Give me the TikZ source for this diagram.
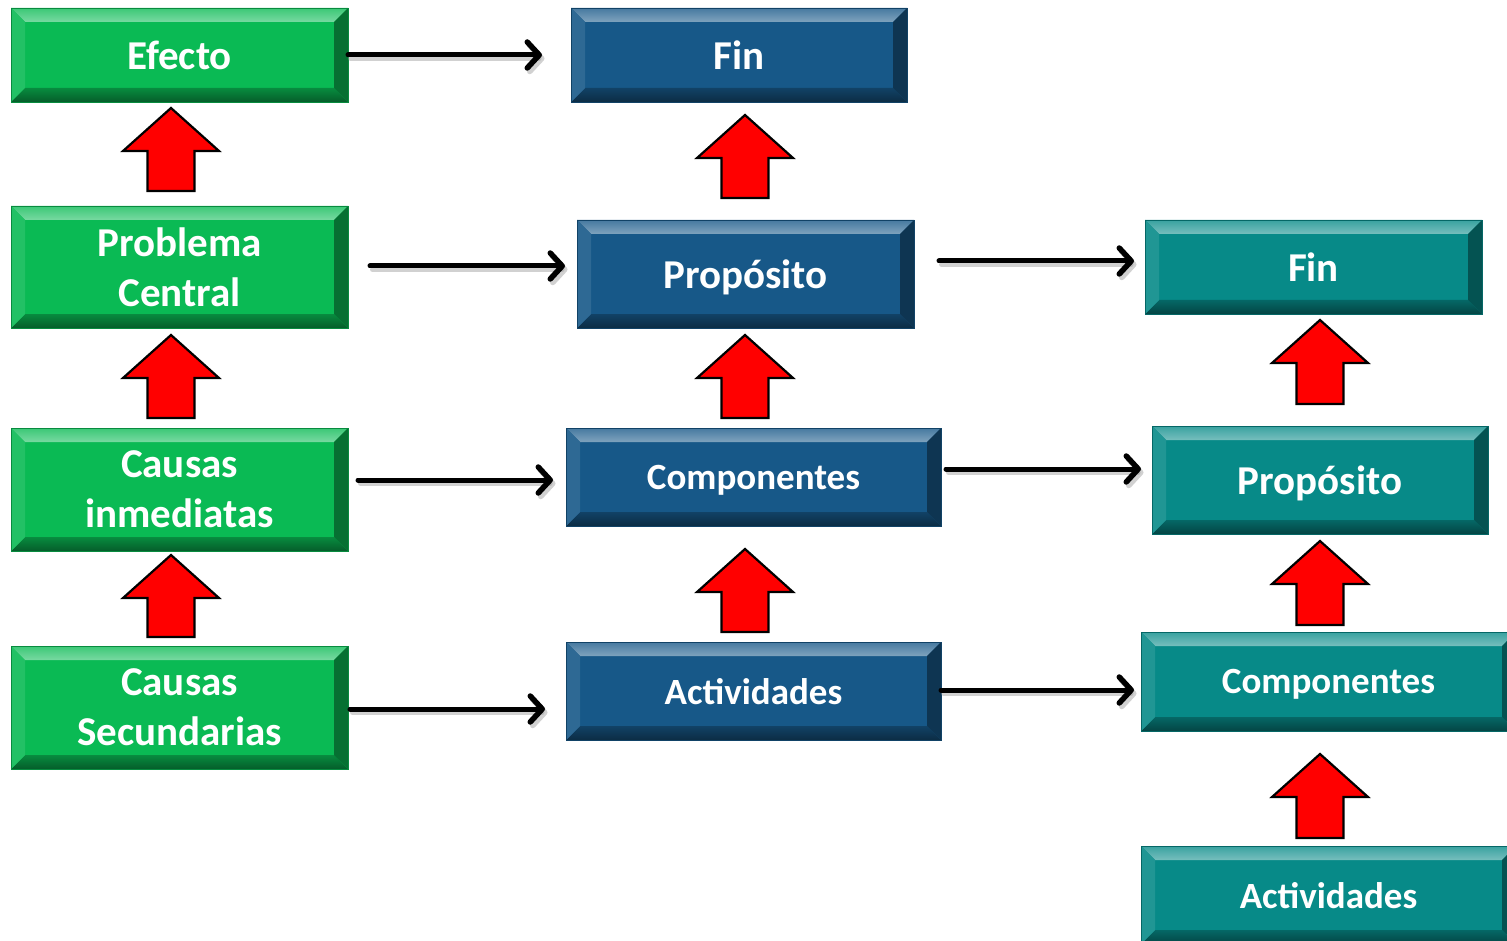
\documentclass[tikz,border=0pt]{standalone}
\usepackage{fontspec}
\setmainfont{Carlito}
\usetikzlibrary{arrows.meta,calc}
\definecolor{gmain}{RGB}{10,186,84}
\definecolor{bmain}{RGB}{23,88,136}
\definecolor{tmain}{RGB}{7,138,136}
\tikzset{
  bev/.style={fill=#1, draw=#1!75!black, line width=0.8pt, inner sep=0pt, outer sep=0pt, text=white, align=center,
    font=\bfseries\fontsize{41}{50}\selectfont,
    path picture={
      \coordinate (nw) at (path picture bounding box.north west);
      \coordinate (ne) at (path picture bounding box.north east);
      \coordinate (sw) at (path picture bounding box.south west);
      \coordinate (se) at (path picture bounding box.south east);
      \shade[top color=#1!80!white, bottom color=#1!55!white] (nw) -- (ne) -- ([shift={(-14pt,-14pt)}]ne) -- ([shift={(14pt,-14pt)}]nw) -- cycle;
      \shade[top color=#1!75!black, bottom color=#1!50!black] (sw) -- (se) -- ([shift={(-14pt,14pt)}]se) -- ([shift={(14pt,14pt)}]sw) -- cycle;
      \fill[#1!90!white] (nw) -- ([shift={(14pt,-14pt)}]nw) -- ([shift={(14pt,14pt)}]sw) -- (sw) -- cycle;
      \fill[#1!60!black] (ne) -- ([shift={(-14pt,-14pt)}]ne) -- ([shift={(-14pt,14pt)}]se) -- (se) -- cycle;
    }},
  gbox/.style={bev=gmain},
  bbox/.style={bev=bmain},
  tbox/.style={bev=tmain},
  one/.style={text depth=0pt},
  small/.style={font=\bfseries\fontsize{37}{44}\selectfont},
  connbase/.style={line width=5pt, line cap=round, -{Straight Barb[length=12pt,width=26pt,line width=5.5pt,line cap=round,line join=round]}},
  conn/.style={connbase, draw=black},
  connshadow/.style={connbase, draw=black!40, opacity=0.45, transform canvas={shift={(2.5pt,-3.5pt)}}},
  redarr/.style={fill=red, draw=black, line width=2.2pt, line join=miter}
}
\newcommand\blockup[3]{%
  \draw[redarr] (#1,#2) -- (#1+48,#2+43) -- (#1+23.5,#2+43) -- (#1+23.5,#3) -- (#1-23.5,#3) -- (#1-23.5,#2+43) -- (#1-48,#2+43) -- cycle;}
\newcommand\connect[2]{%
  \draw[connshadow] #1 -- #2;
  \draw[conn] #1 -- #2;}
\begin{document}
\begin{tikzpicture}[x=1pt,y=-1pt]
\useasboundingbox[fill=white] (0,0) rectangle (1507,941);
% left column
\node[gbox, one, minimum width=337pt, minimum height=94pt] (efecto) at (179.5,55) {Efecto};
\node[gbox, minimum width=337pt, minimum height=122pt] (prob) at (179.5,267) {Problema\\Central};
\node[gbox, minimum width=337pt, minimum height=123pt] (inm) at (179.5,489.5) {Causas\\inmediatas};
\node[gbox, minimum width=337pt, minimum height=123pt] (sec) at (179.5,707.5) {Causas\\Secundarias};
% middle column
\node[bbox, one, minimum width=336pt, minimum height=94pt] (fin1) at (739,55) {Fin};
\node[bbox, one, minimum width=337pt, minimum height=108pt] (prop1) at (745.5,274) {Propósito};
\node[bbox, small, one, minimum width=375pt, minimum height=98pt] (comp1) at (753.5,477) {Componentes};
\node[bbox, small, one, minimum width=375pt, minimum height=98pt] (act1) at (753.5,691) {Actividades};
% right column
\node[tbox, one, minimum width=337pt, minimum height=94pt] (fin2) at (1313.5,267) {Fin};
\node[tbox, one, minimum width=336pt, minimum height=108pt] (prop2) at (1320,480) {Propósito};
\node[tbox, small, one, minimum width=375pt, minimum height=99pt] (comp2) at (1328.5,681.5) {Componentes};
\node[tbox, small, one, minimum width=375pt, minimum height=98pt] (act2) at (1328.5,895) {Actividades};
% red block arrows
\blockup{171}{108}{191}
\blockup{171}{335}{418}
\blockup{171}{555}{637}
\blockup{745}{115}{198}
\blockup{745}{335}{418}
\blockup{745}{549}{632}
\blockup{1320}{320}{404}
\blockup{1320}{541}{625}
\blockup{1320}{754}{838}
% connectors
\connect{(efecto.east)}{([xshift=-29pt]efecto.east -| fin1.west)}
\connect{([xshift=22pt,yshift=1pt]prob.east)}{([xshift=-12pt,yshift=1pt]prob.east -| prop1.west)}
\connect{([xshift=10pt,yshift=9.5pt]inm.east)}{([xshift=-13pt,yshift=9.5pt]inm.east -| comp1.west)}
\connect{([xshift=2pt,yshift=-1.5pt]sec.east)}{([xshift=-21pt,yshift=-1.5pt]sec.east -| act1.west)}
\connect{([xshift=25pt,yshift=13pt]prop1.east)}{([xshift=-11pt,yshift=13pt]prop1.east -| fin2.west)}
\connect{([xshift=5pt,yshift=8pt]comp1.east)}{([xshift=-11pt,yshift=8pt]comp1.east -| prop2.west)}
\connect{([yshift=1pt]act1.east)}{([xshift=-7pt,yshift=1pt]act1.east -| comp2.west)}
\end{tikzpicture}
\end{document}
